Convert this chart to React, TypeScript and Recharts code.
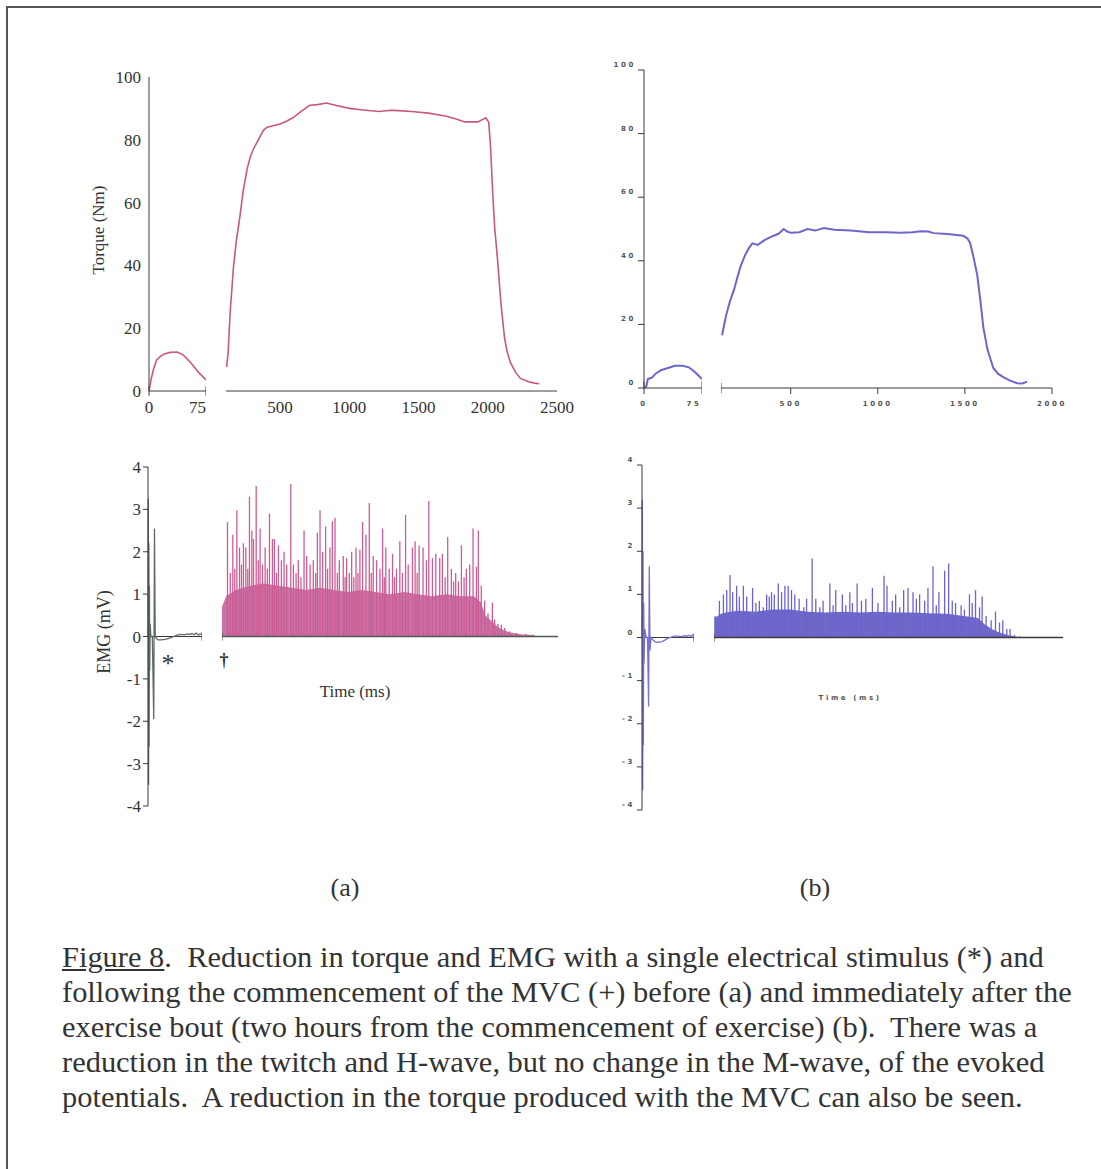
import React from 'react'
import {
  LineChart, Line, AreaChart, Area, BarChart, Bar, XAxis, YAxis, ReferenceLine,
} from 'recharts'

// ---- (a) before exercise ----
const torqueA0Time = [0, 3, 6, 10, 15, 20, 28, 37, 45, 55, 65, 75]
const torqueA0Val = [0, 4, 7, 9.9, 11, 11.8, 12.3, 12.4, 11.5, 9, 6, 3.5]

const torqueATime = [114, 125, 140, 164, 185, 207, 235, 264, 285, 307, 350, 380, 407, 450, 500, 550, 593, 650, 714, 770, 836, 900, 1000, 1100, 1214, 1300, 1357, 1450, 1571, 1693, 1760, 1836, 1929, 1986, 2007, 2020, 2036, 2050, 2071, 2095, 2121, 2140, 2164, 2200, 2236, 2290, 2336, 2371]
const torqueAVal = [7.6, 12, 25, 39.5, 48, 54.5, 64, 71, 74.5, 77, 80.5, 83, 84, 84.5, 85, 86, 87, 89, 91, 91.2, 91.7, 91, 90, 89.5, 89, 89.4, 89.3, 89, 88.5, 87.6, 86.8, 85.7, 85.7, 87, 85.6, 78, 63, 52, 41.7, 28, 17, 12.5, 9, 6, 4, 3, 2.5, 2.3]

const emgA0Time = [0, 0.4, 0.8, 1.2, 1.6, 2.0, 2.4, 3, 4, 6, 8, 9, 10, 12, 14, 18, 24, 30, 36, 40, 45, 50, 55, 58, 61, 64, 67, 70, 72, 75]
const emgA0Val = [0, 3.25, -3.5, 2.2, -2.6, 1.2, -0.8, 0.3, 0, 0, -1.95, 2.55, 0, -0.05, -0.08, -0.08, -0.07, -0.04, 0, 0.03, 0.05, 0.04, 0.06, 0.05, 0.07, 0.04, 0.08, 0.03, 0.06, 0.05]

const emgABodyTime = [100, 130, 200, 300, 400, 500, 600, 700, 800, 900, 1000, 1100, 1200, 1300, 1400, 1500, 1600, 1700, 1800, 1900, 1950, 1980, 2030, 2080, 2150, 2250, 2330, 2345]
const emgABodyVal = [0.7, 0.95, 1.1, 1.2, 1.25, 1.2, 1.15, 1.1, 1.15, 1.1, 1.05, 1.1, 1.05, 1.0, 1.05, 1.0, 0.95, 1.0, 0.95, 0.95, 0.8, 0.5, 0.35, 0.2, 0.1, 0.05, 0.03, 0]

const emgASpikeTime = [140, 160, 178, 192, 207, 226, 240, 254, 271, 285, 297, 314, 326, 345, 360, 373, 390, 409, 425, 440, 461, 475, 490, 504, 525, 544, 563, 592, 611, 630, 646, 665, 687, 706, 730, 753, 770, 782, 801, 820, 841, 855, 872, 889, 908, 925, 939, 967, 980, 991, 1010, 1027, 1042, 1058, 1072, 1086, 1105, 1129, 1153, 1167, 1181, 1205, 1229, 1248, 1260, 1271, 1295, 1319, 1333, 1347, 1371, 1390, 1412, 1431, 1461, 1480, 1495, 1509, 1537, 1561, 1578, 1604, 1628, 1656, 1675, 1695, 1713, 1739, 1755, 1770, 1790, 1811, 1830, 1846, 1870, 1894, 1918, 1932, 1953, 1977, 2001, 2032, 2048, 2072, 2096, 2120, 2155, 2203, 2274, 2322]
const emgASpikeVal = [2.7, 1.5, 2.4, 1.6, 2.98, 2.1, 1.7, 2.2, 2.1, 1.6, 3.3, 2.5, 2.3, 3.55, 1.8, 2.55, 1.7, 2.1, 1.6, 2.9, 2.3, 2.3, 1.5, 2.15, 1.8, 2.0, 1.7, 3.6, 1.7, 1.5, 1.8, 1.4, 2.5, 1.9, 1.7, 1.8, 1.5, 2.45, 2.98, 2.0, 2.6, 1.6, 2.1, 2.72, 2.8, 1.5, 1.8, 1.9, 1.4, 1.85, 1.5, 2.0, 1.4, 2.1, 1.5, 2.05, 2.7, 2.4, 3.15, 1.5, 1.9, 1.8, 1.6, 2.55, 1.4, 2.1, 1.6, 1.95, 1.4, 1.6, 2.25, 1.5, 2.87, 1.7, 2.1, 2.25, 1.5, 2.15, 2.1, 1.8, 3.2, 1.85, 1.95, 1.85, 1.95, 1.4, 2.35, 1.6, 1.3, 1.5, 1.3, 2.15, 1.4, 1.6, 1.7, 2.55, 1.65, 2.5, 1.2, 0.85, 0.55, 0.8, 0.4, 0.3, 0.28, 0.2, 0.12, 0.08, 0.06, 0.05]

// ---- (b) after exercise ----
const torqueB0Time = [0, 3, 5, 10, 15, 22, 30, 40, 50, 58, 65, 70, 75]
const torqueB0Val = [0, 0.5, 2.8, 3.2, 4.5, 5.6, 6.2, 7, 7, 6.5, 5.2, 4, 2.8]

const torqueBTime = [106, 130, 150, 175, 195, 214, 240, 260, 280, 311, 350, 386, 430, 460, 480, 500, 550, 597, 640, 691, 750, 846, 950, 1050, 1131, 1200, 1246, 1290, 1320, 1400, 1490, 1515, 1530, 1550, 1571, 1590, 1606, 1630, 1663, 1690, 1720, 1760, 1800, 1830, 1857]
const torqueBVal = [16.6, 23, 27, 31, 35, 38.5, 42, 44, 45.5, 45, 46.5, 47.5, 48.5, 50, 49.2, 48.8, 49, 50, 49.5, 50.3, 49.8, 49.5, 49, 49, 48.8, 49, 49.3, 49.2, 48.7, 48.4, 47.9, 47, 45.6, 41, 35.5, 27, 19, 12, 6.3, 4.5, 3.4, 2.3, 1.5, 1.4, 2]

const emgB0Time = [0, 0.5, 1.0, 1.5, 2.0, 2.5, 3, 4, 6, 8, 9.5, 10.5, 11.5, 13, 16, 19, 23, 28, 33, 37, 42, 47, 52, 57, 61, 65, 68, 71, 73, 75]
const emgB0Val = [0, 3.2, -3.55, 2.0, -2.5, 0.8, -0.6, 0.2, 0, 0, -1.6, 1.65, -0.3, 0, -0.06, -0.1, -0.11, -0.1, -0.06, -0.02, 0.01, 0.03, 0.03, 0.02, 0.04, 0.03, 0.05, 0.02, 0.06, 0.04]

const emgBBodyTime = [63, 100, 150, 200, 300, 400, 500, 600, 700, 800, 900, 1000, 1100, 1200, 1300, 1400, 1500, 1580, 1620, 1660, 1700, 1750, 1800, 1830]
const emgBBodyVal = [0.45, 0.55, 0.6, 0.62, 0.6, 0.65, 0.65, 0.6, 0.58, 0.6, 0.58, 0.6, 0.58, 0.58, 0.56, 0.55, 0.5, 0.45, 0.3, 0.2, 0.12, 0.06, 0.02, 0]

const emgBSpikeTime = [69, 94, 117, 136, 155, 170, 193, 209, 232, 251, 285, 304, 324, 347, 366, 381, 394, 410, 433, 452, 471, 490, 509, 528, 553, 580, 596, 628, 649, 672, 691, 730, 749, 764, 802, 822, 845, 860, 887, 912, 937, 975, 1007, 1042, 1059, 1090, 1109, 1132, 1155, 1180, 1209, 1228, 1247, 1276, 1295, 1324, 1343, 1358, 1391, 1414, 1435, 1454, 1486, 1505, 1534, 1550, 1569, 1592, 1607, 1630, 1659, 1684, 1707, 1726, 1749, 1768, 1793, 1822]
const emgBSpikeVal = [0.5, 0.85, 1.0, 1.1, 1.45, 1.05, 1.2, 0.95, 1.2, 0.95, 1.15, 0.8, 0.85, 0.7, 1.0, 0.95, 1.05, 1.0, 1.25, 1.05, 1.2, 1.2, 1.1, 1.0, 0.9, 0.7, 0.9, 1.83, 0.9, 0.7, 0.85, 1.25, 0.75, 1.1, 1.0, 0.75, 1.05, 0.8, 1.25, 0.85, 0.9, 1.15, 0.8, 1.43, 1.2, 0.85, 1.0, 0.7, 1.1, 1.15, 1.05, 0.9, 1.0, 0.85, 1.15, 1.65, 0.75, 1.05, 1.55, 1.72, 0.85, 0.8, 0.75, 0.65, 1.0, 0.8, 1.1, 0.7, 0.95, 0.5, 0.4, 0.6, 0.35, 0.4, 0.2, 0.2, 0.06, 0.03]

const torqueTicks = [0, 20, 40, 60, 80, 100]
const emgTicks = [-4, -3, -2, -1, 0, 1, 2, 3, 4]
const torqueATicksX = [500, 1000, 1500, 2000, 2500]
const torqueBTicksX = [500, 1000, 1500, 2000]

const zip = (t: number[], v: number[]) => t.map((x, i) => ({ t: x, v: v[i] }))

const serif = '"Liberation Serif", "Times New Roman", serif'
const AXIS = '#3a3a3a'
const PINK = '#c9587f'
const VIOLET = '#6c66cc'

// little spaced-out labels used on panel (b)
const TinyTick = (props: any) => {
  const { x, y, payload, textAnchor, dx = 0, dy = 0 } = props
  return (
    <text x={x + dx} y={y + dy} fontSize={7} fontWeight="bold" letterSpacing={2.6}
      fill="#555" fontFamily='"DejaVu Sans", sans-serif' textAnchor={textAnchor}>
      {payload.value}
    </text>
  )
}

const abs = (left: number, top: number): React.CSSProperties => ({ position: 'absolute', left, top })

function Label({ x, y, size, rotate, children, style }: any) {
  return (
    <div style={{
      position: 'absolute', left: x, top: y, fontFamily: serif, fontSize: size, color: '#333',
      whiteSpace: 'nowrap', transform: `translate(-50%, -50%)${rotate ? ` rotate(${rotate}deg)` : ''}`, ...style,
    }}>{children}</div>
  )
}

// rectified EMG burst: dense envelope plus the individual spikes drawn on top
function Burst({ left, top, width, height, domain, body, spikes, bodyFill, spikeFill, baseColor }: any) {
  const margin = { top: 10, right: 5, bottom: 10, left: 0 }
  return (
    <>
      <div style={abs(left, top)}>
        <AreaChart width={width} height={height} data={body} margin={margin}>
          <XAxis hide dataKey="t" type="number" domain={domain} />
          <YAxis hide type="number" domain={[-4, 4]} />
          <Area dataKey="v" type="linear" baseValue={0} stroke="none" fill={bodyFill} fillOpacity={1} isAnimationActive={false} />
        </AreaChart>
      </div>
      <div style={abs(left, top)}>
        <BarChart width={width} height={height} data={spikes} margin={margin}>
          <XAxis hide dataKey="t" type="number" domain={domain} />
          <YAxis hide type="number" domain={[-4, 4]} />
          <Bar dataKey="v" barSize={1.3} fill={spikeFill} isAnimationActive={false} />
          <ReferenceLine y={0} stroke={baseColor} strokeWidth={1.5} />
          <ReferenceLine segment={[{ x: domain[0], y: -0.1 }, { x: domain[0], y: 0.1 }]} stroke={AXIS} ifOverflow="visible" />
        </BarChart>
      </div>
    </>
  )
}

export default function App() {
  const tA0 = zip(torqueA0Time, torqueA0Val)
  const tA = zip(torqueATime, torqueAVal)
  const tB0 = zip(torqueB0Time, torqueB0Val)
  const tB = zip(torqueBTime, torqueBVal)
  const eA0 = zip(emgA0Time, emgA0Val)
  const eB0 = zip(emgB0Time, emgB0Val)

  const serifTick = { fill: '#333', fontSize: 17, fontFamily: serif }

  return (
    <div style={{ position: 'absolute', left: 0, top: 0, width: 1101, height: 1169, background: '#fff', overflow: 'hidden' }}>
      <div style={{ position: 'absolute', left: 6, top: 6, width: 1110, height: 1161, borderTop: '2px solid #555', borderLeft: '2px solid #555', borderBottom: '1px solid #aaa' }} />

      {/* (a) torque, twitch segment */}
      <div style={abs(99, 67)}>
        <LineChart width={107} height={354} data={tA0} margin={{ top: 10, right: 0, bottom: 0, left: 0 }}>
          <XAxis dataKey="t" type="number" domain={[0, 75]} ticks={[0, 75]} stroke={AXIS} height={30}
            tickLine={false} tickSize={0} tickMargin={10} tick={serifTick} />
          <YAxis type="number" domain={[0, 100]} ticks={torqueTicks} stroke={AXIS} width={50}
            tickLine={false} tickSize={0} tickMargin={8} tick={serifTick} />
          <ReferenceLine segment={[{ x: 0, y: -1.5 }, { x: 0, y: 1.5 }]} stroke={AXIS} ifOverflow="visible" />
          <ReferenceLine segment={[{ x: 75, y: -1.5 }, { x: 75, y: 1.5 }]} stroke={AXIS} ifOverflow="visible" />
          <Line dataKey="v" stroke={PINK} strokeWidth={1.6} dot={false} isAnimationActive={false} />
        </LineChart>
      </div>
      {/* (a) torque, MVC segment */}
      <div style={abs(226, 67)}>
        <LineChart width={356} height={354} data={tA} margin={{ top: 10, right: 25, bottom: 0, left: 0 }}>
          <XAxis dataKey="t" type="number" domain={[110, 2500]} ticks={torqueATicksX} stroke={AXIS} height={30}
            tickLine={false} tickSize={0} tickMargin={10} tick={serifTick} />
          <YAxis hide type="number" domain={[0, 100]} />
          <Line dataKey="v" stroke={PINK} strokeWidth={1.6} dot={false} isAnimationActive={false} />
        </LineChart>
      </div>

      {/* (b) torque, twitch segment */}
      <div style={abs(594, 60)}>
        <LineChart width={108} height={353} data={tB0} margin={{ top: 10, right: 0, bottom: 0, left: 0 }}>
          <XAxis dataKey="t" type="number" domain={[0, 75]} ticks={[0, 75]} stroke={AXIS} height={25}
            tickSize={6} tickMargin={2} tick={(p: any) => <TinyTick {...p} dy={10} />} />
          <YAxis type="number" domain={[0, 100]} ticks={torqueTicks} stroke={AXIS} width={50}
            tickSize={6} tickMargin={2} tick={(p: any) => <TinyTick {...p} dy={-3} />} />
          <ReferenceLine segment={[{ x: 0, y: 0 }, { x: 0, y: 2 }]} stroke={AXIS} ifOverflow="visible" />
          <ReferenceLine segment={[{ x: 75, y: 0 }, { x: 75, y: 2 }]} stroke={AXIS} ifOverflow="visible" />
          <Line dataKey="v" stroke={VIOLET} strokeWidth={2} dot={false} isAnimationActive={false} />
        </LineChart>
      </div>
      {/* (b) torque, MVC segment */}
      <div style={abs(721, 60)}>
        <LineChart width={356} height={353} data={tB} margin={{ top: 10, right: 25, bottom: 0, left: 0 }}>
          <XAxis dataKey="t" type="number" domain={[100, 2000]} ticks={torqueBTicksX} stroke={AXIS} height={25}
            tickSize={6} tickMargin={2} tick={(p: any) => <TinyTick {...p} dy={10} />} />
          <YAxis hide type="number" domain={[0, 100]} />
          <ReferenceLine segment={[{ x: 100, y: -1.6 }, { x: 100, y: 1.6 }]} stroke={AXIS} ifOverflow="visible" />
          <Line dataKey="v" stroke={VIOLET} strokeWidth={2} dot={false} isAnimationActive={false} />
        </LineChart>
      </div>

      {/* (a) EMG, evoked potential */}
      <div style={abs(78, 457)}>
        <LineChart width={124} height={359} data={eA0} margin={{ top: 10, right: 0, bottom: 10, left: 0 }}>
          <XAxis hide dataKey="t" type="number" domain={[0, 75]} />
          <YAxis type="number" domain={[-4, 4]} ticks={emgTicks} stroke={AXIS} width={70}
            tickSize={5} tickMargin={2} tick={serifTick} />
          <ReferenceLine y={0} stroke={AXIS} />
          <ReferenceLine segment={[{ x: 75, y: -0.1 }, { x: 75, y: 0.1 }]} stroke={AXIS} ifOverflow="visible" />
          <Line dataKey="v" stroke="#5d6b60" strokeWidth={1.3} dot={false} isAnimationActive={false} />
        </LineChart>
      </div>
      {/* (a) EMG, MVC */}
      <Burst left={222} top={457} width={341} height={359} domain={[100, 2500]}
        body={zip(emgABodyTime, emgABodyVal)} spikes={zip(emgASpikeTime, emgASpikeVal)}
        bodyFill="#c972a6" spikeFill="#cc5c94" baseColor="#4f5a4f" />

      {/* (b) EMG, evoked potential */}
      <div style={abs(592, 455)}>
        <LineChart width={102} height={365} data={eB0} margin={{ top: 10, right: 0, bottom: 10, left: 0 }}>
          <XAxis hide dataKey="t" type="number" domain={[0, 75]} />
          <YAxis type="number" domain={[-4, 4]} ticks={emgTicks} stroke={AXIS} width={50}
            tickSize={5} tickMargin={2} tick={(p: any) => <TinyTick {...p} dy={-3} />} />
          <ReferenceLine y={0} stroke={AXIS} />
          <ReferenceLine segment={[{ x: 75, y: -0.1 }, { x: 75, y: 0.1 }]} stroke={AXIS} ifOverflow="visible" />
          <Line dataKey="v" stroke="#7570d6" strokeWidth={1.3} dot={false} isAnimationActive={false} />
        </LineChart>
      </div>
      {/* (b) EMG, MVC */}
      <Burst left={714} top={455} width={354} height={365} domain={[60, 2070]}
        body={zip(emgBBodyTime, emgBBodyVal)} spikes={zip(emgBSpikeTime, emgBSpikeVal)}
        bodyFill="#7068c6" spikeFill="#6a64d2" baseColor={AXIS} />

      <Label x={99} y={230} size={17} rotate={-90}>Torque (Nm)</Label>
      <Label x={104} y={632} size={18} rotate={-90}>EMG (mV)</Label>
      <Label x={355} y={692} size={17}>Time (ms)</Label>
      <Label x={168} y={664} size={26}>*</Label>
      <Label x={224} y={660} size={18} style={{ fontWeight: 'bold' }}>†</Label>
      <Label x={850} y={698} size={7} style={{ fontFamily: '"DejaVu Sans", sans-serif', fontWeight: 'bold', letterSpacing: 2.6, color: '#555' }}>Time (ms)</Label>

      <Label x={345} y={888} size={26}>(a)</Label>
      <Label x={815} y={888} size={26}>(b)</Label>

      <div style={{
        position: 'absolute', left: 62, top: 940, width: 1000, fontFamily: serif, fontSize: 29, lineHeight: '35px',
        color: '#333', whiteSpace: 'pre', transform: 'scaleX(1.05)', transformOrigin: 'left top',
      }}>
        <span style={{ textDecoration: 'underline' }}>Figure 8</span>{'.  Reduction in torque and EMG with a single electrical stimulus (*) and\n'}
        {'following the commencement of the MVC (+) before (a) and immediately after the\n'}
        {'exercise bout (two hours from the commencement of exercise) (b).  There was a\n'}
        {'reduction in the twitch and H-wave, but no change in the M-wave, of the evoked\n'}
        {'potentials.  A reduction in the torque produced with the MVC can also be seen.'}
      </div>
    </div>
  )
}
